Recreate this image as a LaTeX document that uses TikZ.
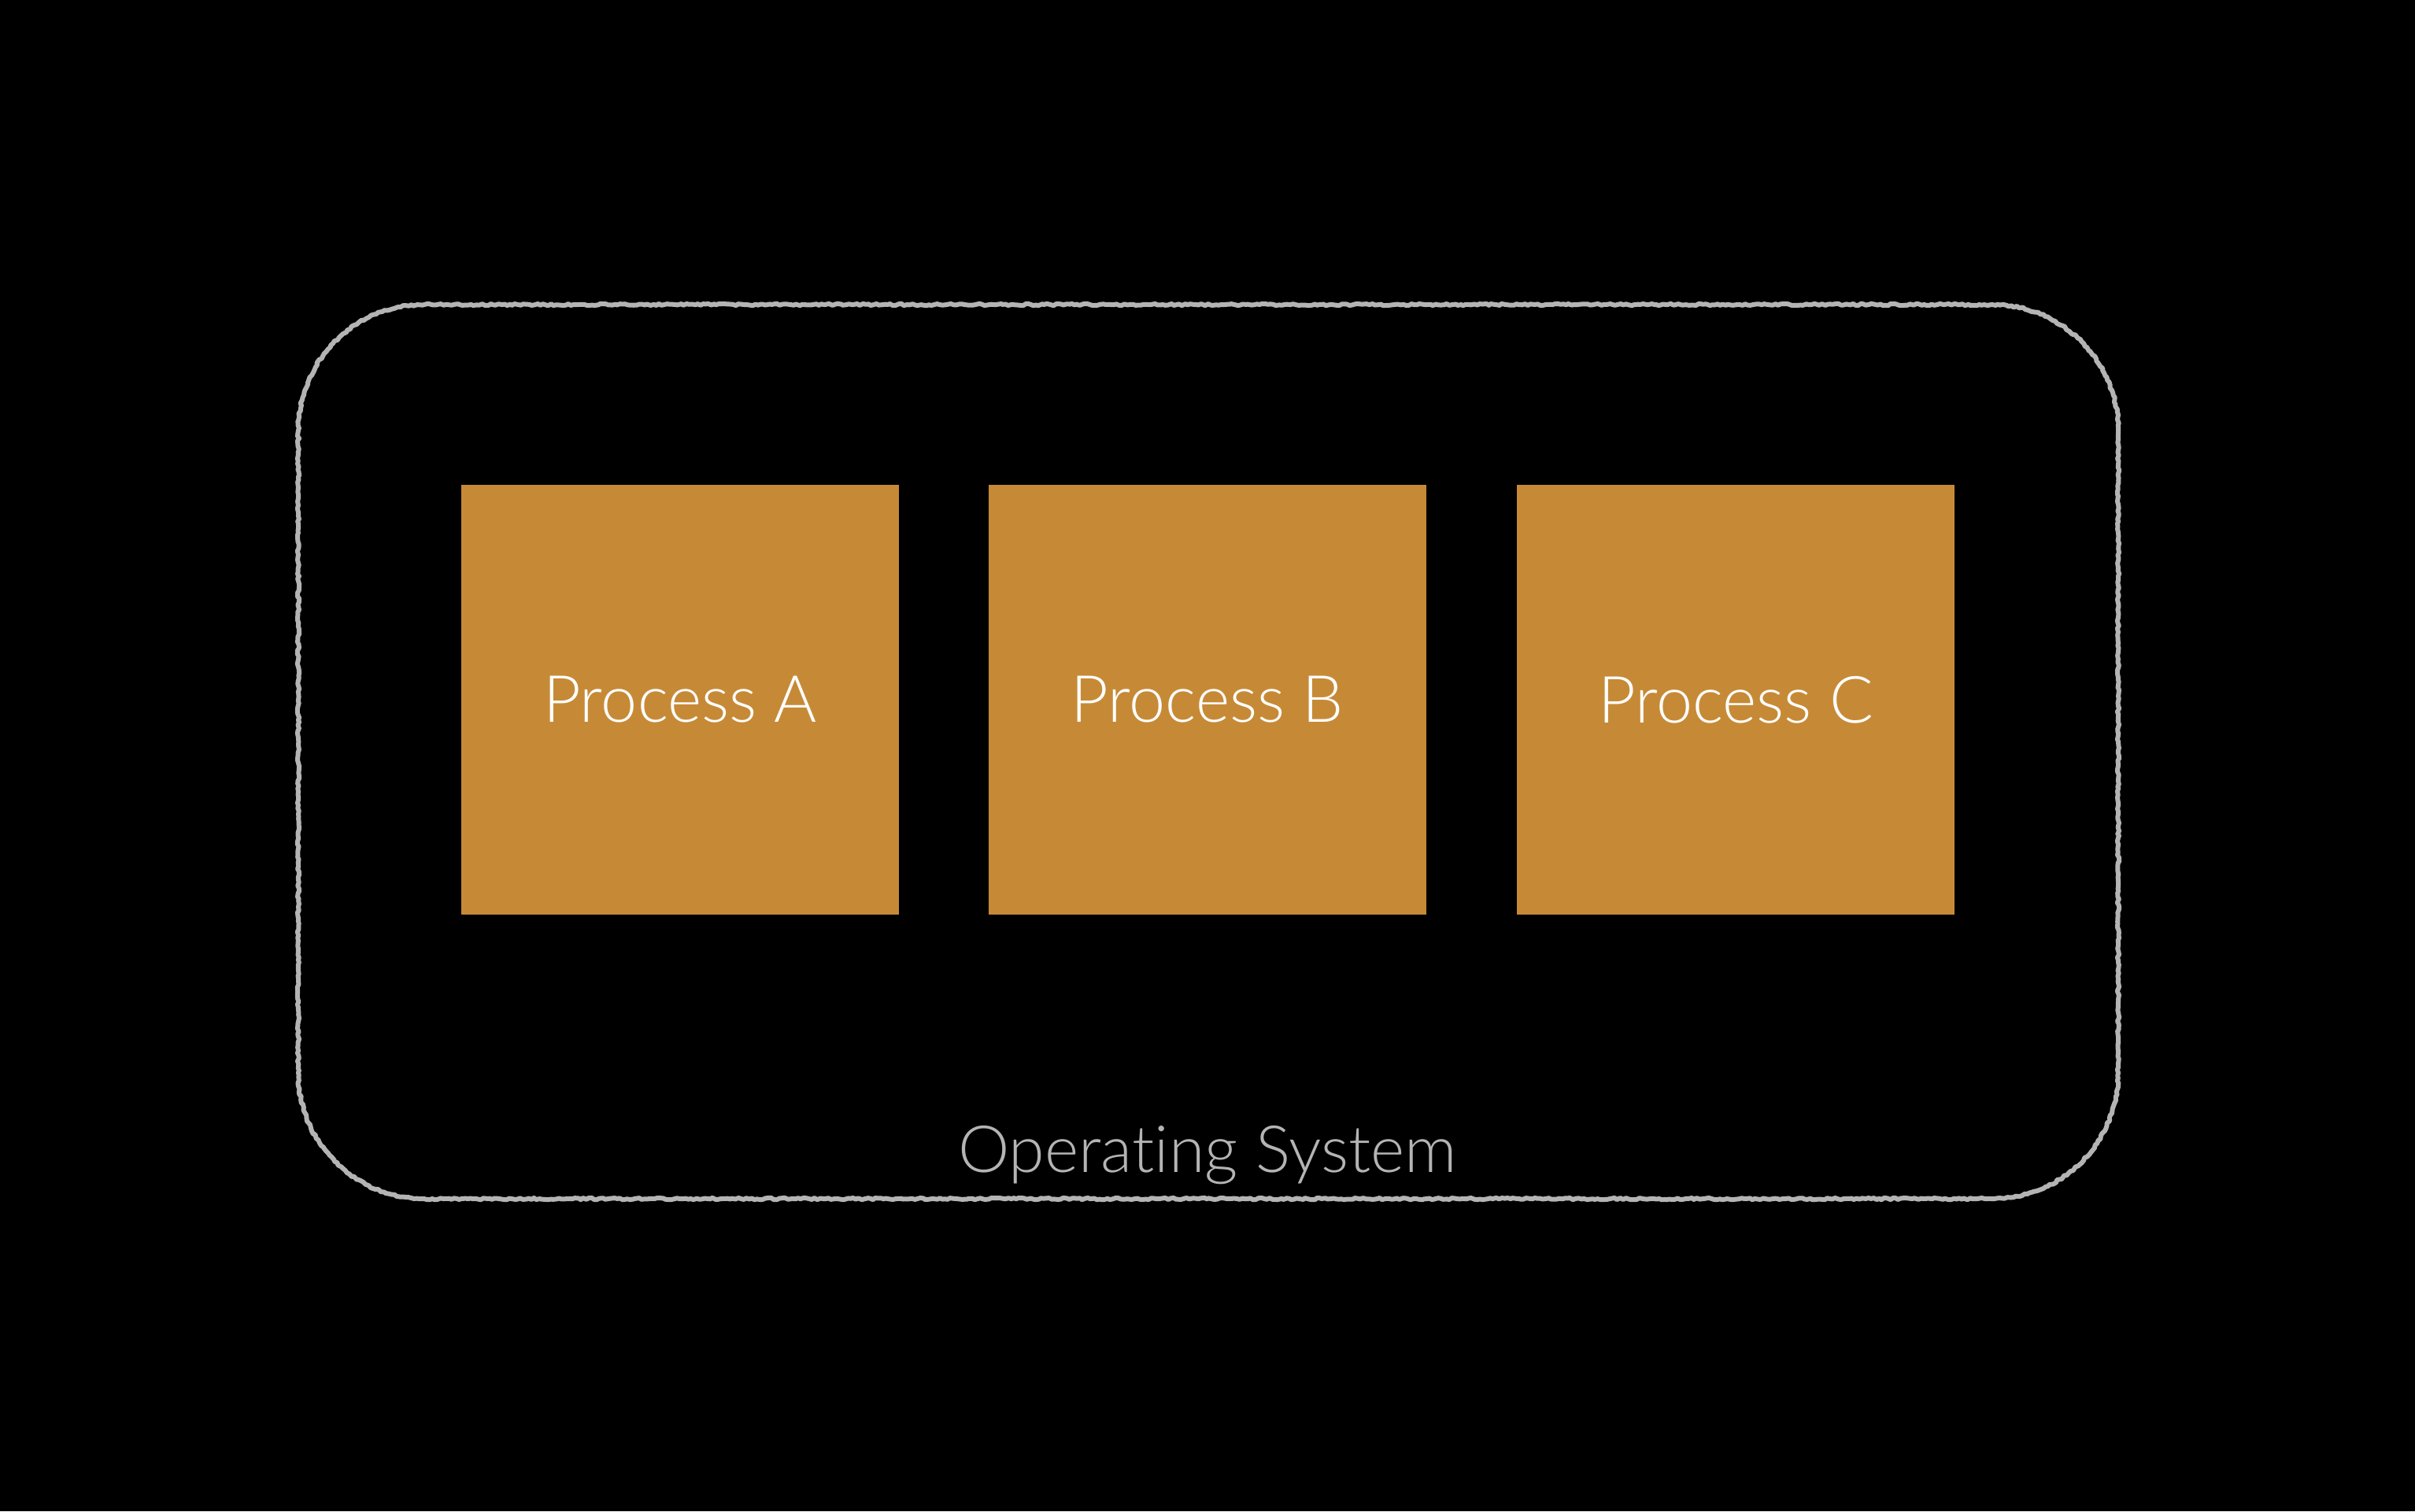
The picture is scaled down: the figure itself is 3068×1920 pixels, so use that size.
\documentclass[tikz,border=0pt]{standalone}
\usepackage{fontspec}
\setmainfont{Lato Light}[Ligatures=NoCommon]
\usetikzlibrary{decorations.pathmorphing}
\definecolor{procfill}{HTML}{C68A37}
\definecolor{chalk}{HTML}{B4B4B4}
\tikzset{
  procbox/.style={draw=none, fill=procfill, minimum width=5.55cm, minimum height=5.46cm,
    inner sep=0pt, text=white, font=\fontsize{23.5}{27}\selectfont},
  osframe/.style={draw=chalk, line width=0.06cm, line join=round,
    decorate, decoration={random steps, segment length=0.035cm, amplitude=0.012cm}},
  oslabel/.style={text=chalk, font=\fontsize{23.5}{27}\selectfont, inner sep=0pt}
}
\begin{document}
\begin{tikzpicture}[x=0.01cm, y=-0.01cm]
  \useasboundingbox[fill=black] (0,0) rectangle (3068,1920);
  % operating system frame: a chalky rounded rectangle built from lines and arcs
  \draw[osframe] (539,387) -- (2531,387)
    arc[start angle=90, end angle=0, radius=1.6cm] -- (2691,1363)
    arc[start angle=0, end angle=-90, radius=1.6cm] -- (539,1523)
    arc[start angle=-90, end angle=-180, radius=1.6cm] -- (379,547)
    arc[start angle=180, end angle=90, radius=1.6cm] -- cycle;
  % processes
  \node[procbox] (pa) at (864,889) {Process A};
  \node[procbox] (pb) at (1534,889) {Process B};
  \node[procbox] (pc) at (2205,889) {Process C};
  \node[oslabel, anchor=base] (os) at (1534,1489) {Operating System};
\end{tikzpicture}
\end{document}
